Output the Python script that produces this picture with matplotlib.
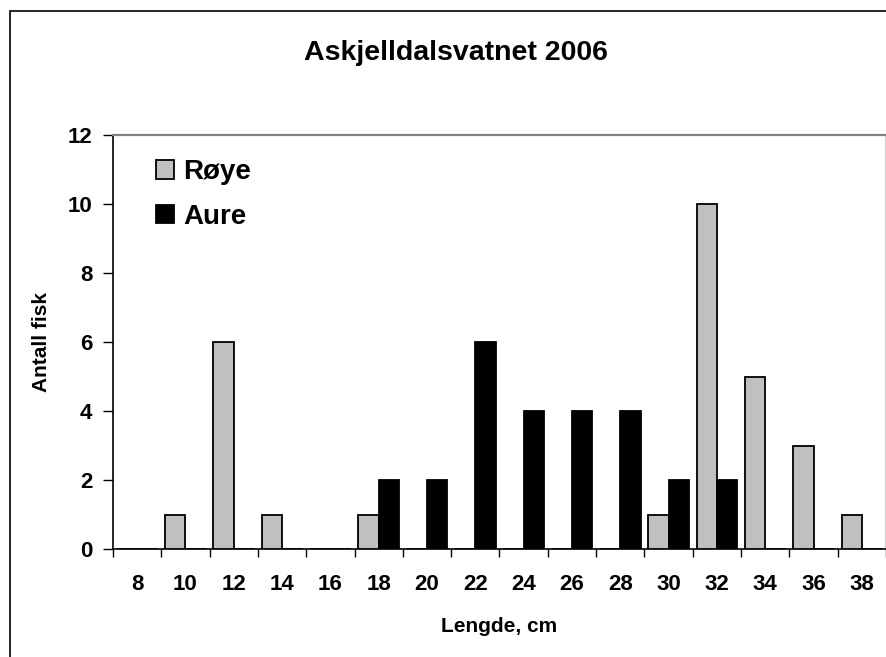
import matplotlib
matplotlib.use("Agg")
import matplotlib.pyplot as plt
import numpy as np
from matplotlib.patches import Rectangle

categories = [8, 10, 12, 14, 16, 18, 20, 22, 24, 26, 28, 30, 32, 34, 36, 38]
roye = [0, 1, 6, 1, 0, 1, 0, 0, 0, 0, 0, 1, 10, 5, 3, 1]
aure = [0, 0, 0, 0, 0, 2, 2, 6, 4, 4, 4, 2, 2, 0, 0, 0]
yticks = [0, 2, 4, 6, 8, 10, 12]

plt.rcParams['font.family'] = ['Liberation Sans', 'DejaVu Sans']
plt.rcParams['font.weight'] = 'bold'

W, H = 887, 657
fig = plt.figure(figsize=(W / 100, H / 100), dpi=100)

# outer chart border
fig.patches.append(Rectangle((10 / W, -0.05), 1.2, 1 - 11 / H + 0.05,
                             transform=fig.transFigure, fill=False,
                             edgecolor='black', linewidth=1.2, zorder=0))

ax = fig.add_axes([113 / W, 1 - 549 / H, (886 - 113) / W, (549 - 135) / H])
x = np.arange(len(categories))
bw = 0.42
ax.bar(x - bw / 2, roye, width=bw, color='#C0C0C0', edgecolor='black',
       linewidth=1.3, label='Røye', zorder=3)
ax.bar(x + bw / 2, aure, width=bw, color='black', edgecolor='black',
       linewidth=1.3, label='Aure', zorder=3)

ax.set_xlim(-0.5, len(categories) - 0.5)
ax.set_ylim(0, 12)
ax.set_yticks(yticks)
ax.set_yticklabels([str(v) for v in yticks], fontsize=16, fontweight='bold')
ax.set_xticks(x)
ax.set_xticklabels([str(c) for c in categories], fontsize=16, fontweight='bold')
ax.set_xticks(np.arange(-0.5, len(categories) + 0.5, 1), minor=True)
ax.tick_params(axis='x', which='major', length=0, pad=18)
ax.tick_params(axis='x', which='minor', length=6, width=1, direction='out')
ax.tick_params(axis='y', which='major', length=7, width=1, direction='out', pad=8)

for s in ['left', 'bottom']:
    ax.spines[s].set_color('black')
    ax.spines[s].set_linewidth(1.2)
ax.spines['top'].set_color('#808080')
ax.spines['top'].set_linewidth(1.6)
ax.spines['right'].set_color('#C0C0C0')
ax.spines['right'].set_linewidth(1.2)

ax.set_xlabel('Lengde, cm', fontsize=15, fontweight='bold', labelpad=16)
ax.set_ylabel('Antall fisk', fontsize=15, fontweight='bold', labelpad=12)

fig.text(456 / W, 1 - 53 / H, 'Askjelldalsvatnet 2006', ha='center', va='center',
         fontsize=20.5, fontweight='bold')

leg = ax.legend(loc='upper left', bbox_to_anchor=(0.041, 0.968), frameon=False,
                prop={'weight': 'bold', 'size': 20},
                handlelength=0.65, handleheight=0.65, handletextpad=0.35,
                labelspacing=0.66, borderaxespad=0)

fig.savefig('out.png', dpi=100)
